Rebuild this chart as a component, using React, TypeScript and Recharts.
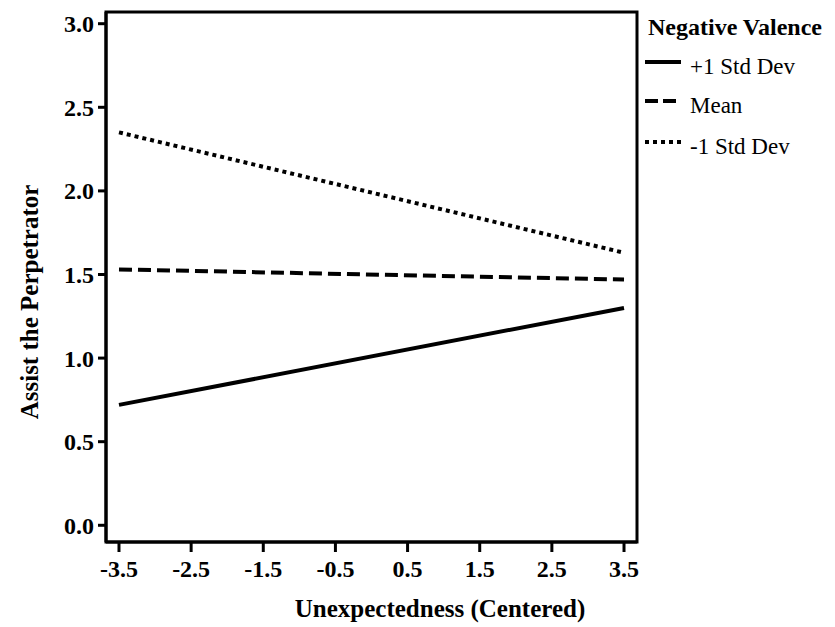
import React from "react";
import {
  LineChart,
  Line,
  XAxis,
  YAxis,
  Legend,
  ReferenceArea,
} from "recharts";

const xValues = [-3.5, 3.5];
const plusOneSD = [0.72, 1.3];
const meanLine = [1.53, 1.47];
const minusOneSD = [2.35, 1.63];

const xTicks = [-3.5, -2.5, -1.5, -0.5, 0.5, 1.5, 2.5, 3.5];
const yTicks = [0, 0.5, 1, 1.5, 2, 2.5, 3];

const X_DOMAIN: [number, number] = [-3.68, 3.68];
const Y_DOMAIN: [number, number] = [-0.1, 3.07];

const data = xValues.map((x, i) => ({
  x,
  plus: plusOneSD[i],
  mean: meanLine[i],
  minus: minusOneSD[i],
}));

const FONT = "'Liberation Serif', 'Times New Roman', serif";

const legendItems = [
  { label: "+1 Std Dev", dash: undefined, y: 62 },
  { label: "Mean", dash: "13 5", y: 101 },
  { label: "-1 Std Dev", dash: "4 4", y: 142 },
];

function ValenceLegend() {
  return (
    <svg width={194} height={165} style={{ display: "block" }}>
      <text
        x={7}
        y={35}
        fontFamily={FONT}
        fontWeight="bold"
        fontSize={24}
        fill="#000"
      >
        Negative Valence
      </text>
      {legendItems.map((item) => (
        <g key={item.label}>
          <line
            x1={4}
            x2={40}
            y1={item.y}
            y2={item.y}
            stroke="#000"
            strokeWidth={4}
            strokeDasharray={item.dash}
          />
          <text x={49} y={item.y + 12} fontFamily={FONT} fontSize={23} fill="#000">
            {item.label}
          </text>
        </g>
      ))}
    </svg>
  );
}

const tickStyle = {
  fontFamily: FONT,
  fontWeight: "bold",
  fontSize: 24,
  fill: "#000",
};

export default function App() {
  return (
    <div style={{ position: "absolute", left: 0, top: 0, background: "#fff" }}>
      <LineChart
        width={835}
        height={627}
        data={data}
        margin={{ top: 12, right: 4, left: 0, bottom: 0 }}
      >
        <XAxis
          dataKey="x"
          type="number"
          domain={X_DOMAIN}
          ticks={xTicks}
          allowDataOverflow
          tickFormatter={(v) => v.toFixed(1)}
          tick={tickStyle}
          tickSize={10}
          tickMargin={8}
          height={85}
          axisLine={{ stroke: "#000", strokeWidth: 3 }}
          tickLine={{ stroke: "#000", strokeWidth: 3 }}
          label={() => (
            <text
              x={440}
              y={617}
              textAnchor="middle"
              fontFamily={FONT}
              fontWeight="bold"
              fontSize={25}
              fill="#000"
            >
              Unexpectedness (Centered)
            </text>
          )}
        />
        <YAxis
          type="number"
          domain={Y_DOMAIN}
          ticks={yTicks}
          allowDataOverflow
          tickFormatter={(v) => v.toFixed(1)}
          tick={tickStyle}
          tickSize={8}
          tickMargin={4}
          width={106}
          axisLine={{ stroke: "#000", strokeWidth: 3 }}
          tickLine={{ stroke: "#000", strokeWidth: 3 }}
          label={() => (
            <text
              x={38}
              y={302}
              textAnchor="middle"
              transform="rotate(-90 38 302)"
              fontFamily={FONT}
              fontWeight="bold"
              fontSize={25}
              fill="#000"
            >
              Assist the Perpetrator
            </text>
          )}
        />
        <ReferenceArea
          x1={X_DOMAIN[0]}
          x2={X_DOMAIN[1]}
          y1={Y_DOMAIN[0]}
          y2={Y_DOMAIN[1]}
          fill="none"
          stroke="#000"
          strokeWidth={3}
          ifOverflow="visible"
        />
        <Legend
          layout="vertical"
          verticalAlign="top"
          align="right"
          content={() => <ValenceLegend />}
          wrapperStyle={{ left: 641, top: 0, width: 194 }}
        />
        <Line
          dataKey="plus"
          name="+1 Std Dev"
          stroke="#000"
          strokeWidth={4}
          dot={false}
          isAnimationActive={false}
        />
        <Line
          dataKey="mean"
          name="Mean"
          stroke="#000"
          strokeWidth={4}
          strokeDasharray="13 6"
          dot={false}
          isAnimationActive={false}
        />
        <Line
          dataKey="minus"
          name="-1 Std Dev"
          stroke="#000"
          strokeWidth={4}
          strokeDasharray="4 4"
          dot={false}
          isAnimationActive={false}
        />
      </LineChart>
    </div>
  );
}
